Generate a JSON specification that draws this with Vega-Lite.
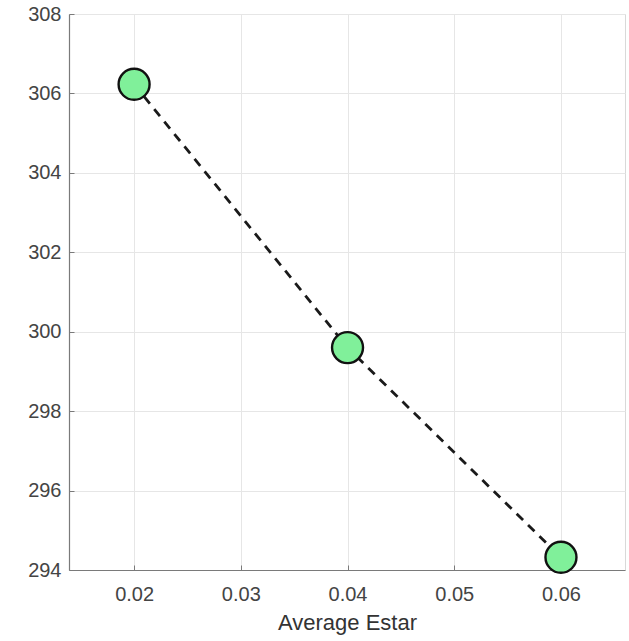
{
  "$schema": "https://vega.github.io/schema/vega-lite/v6.json",
  "autosize": {"type": "none"},
  "padding": {"left": 69, "top": 14, "right": 4, "bottom": 71},
  "width": 556,
  "height": 556,
  "background": "white",
  "config": {
    "view": {"stroke": "#d9d9d9", "strokeWidth": 1},
    "font": "Liberation Sans",
    "axis": {
      "gridColor": "#e6e6e6",
      "gridWidth": 1,
      "domainColor": "#7a7a7a",
      "domainWidth": 1.2,
      "tickColor": "#7a7a7a",
      "tickSize": -5,
      "labelFont": "Liberation Sans",
      "labelFontSize": 20,
      "labelColor": "#444444",
      "titleFont": "Liberation Sans",
      "titleFontSize": 22,
      "titleFontWeight": "normal",
      "titleColor": "#333333"
    }
  },
  "data": {
    "values": [
      {"estar": 0.02, "value": 306.23},
      {"estar": 0.04, "value": 299.6},
      {"estar": 0.06, "value": 294.32}
    ]
  },
  "encoding": {
    "x": {
      "field": "estar",
      "type": "quantitative",
      "scale": {"domain": [0.0139, 0.066], "nice": false, "zero": false},
      "axis": {
        "title": "Average Estar",
        "values": [0.02, 0.03, 0.04, 0.05, 0.06],
        "format": ".2f",
        "labelPadding": 19,
        "titlePadding": 8
      }
    },
    "y": {
      "field": "value",
      "type": "quantitative",
      "scale": {"domain": [294, 308], "nice": false, "zero": false},
      "axis": {
        "title": null,
        "values": [294, 296, 298, 300, 302, 304, 306, 308],
        "labelPadding": 13
      }
    }
  },
  "layer": [
    {
      "mark": {"type": "line", "color": "#1a1a1a", "strokeWidth": 2.8, "strokeDash": [9, 7]}
    },
    {
      "mark": {"type": "point", "shape": "circle", "filled": true, "fill": "#80f09a", "stroke": "#111111", "strokeWidth": 2.4, "size": 960, "opacity": 1}
    }
  ]
}
